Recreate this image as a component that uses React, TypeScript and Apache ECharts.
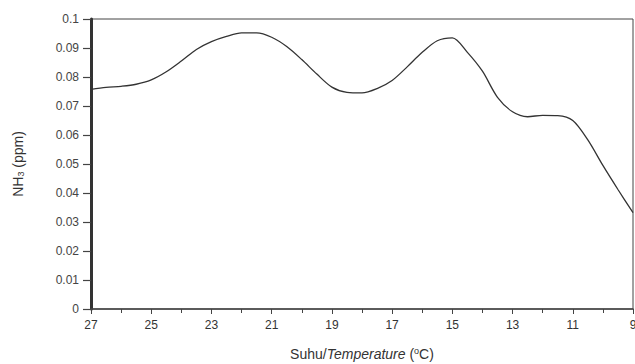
import React, { useEffect, useRef } from "react";
import * as echarts from "echarts";

const temperatures = [27, 26.5, 26, 25.5, 25, 24.5, 24, 23.5, 23, 22.5, 22, 21.5, 21, 20.5, 20, 19.5, 19, 18.5, 18, 17.5, 17, 16.5, 16, 15.5, 15, 14.5, 14, 13.5, 13, 12.5, 12, 11.5, 11, 10.5, 10, 9.5, 9];
const nh3Values = [0.0757, 0.0764, 0.0768, 0.0775, 0.079, 0.0818, 0.0855, 0.0895, 0.0922, 0.094, 0.0952, 0.0952, 0.0937, 0.0905, 0.086, 0.081, 0.0765, 0.0747, 0.0745, 0.076, 0.0788, 0.0835, 0.0885, 0.0925, 0.0935, 0.0885, 0.082, 0.073, 0.068, 0.0663, 0.0668, 0.0667, 0.065, 0.0583, 0.0495, 0.0412, 0.0332];
const yTicks = ["0", "0.01", "0.02", "0.03", "0.04", "0.05", "0.06", "0.07", "0.08", "0.09", "0.1"];

export default function App() {
  const ref = useRef<HTMLDivElement>(null);
  useEffect(() => {
    if (!ref.current) return;
    const chart = echarts.init(ref.current, null, { renderer: "svg" });
    const font = "Liberation Sans, Arial, sans-serif";
    chart.setOption({
      animation: false,
      backgroundColor: "#fff",
      grid: {
        left: 91,
        right: 2,
        top: 19,
        bottom: 55,
        outerBoundsMode: "none",
        containLabel: false,
        show: true,
        borderColor: "#444",
        borderWidth: 1,
        backgroundColor: "transparent",
      },
      xAxis: {
        type: "value",
        min: 9,
        max: 27,
        interval: 2,
        inverse: true,
        name: "Suhu/{i|Temperature} ({s|o}C)",
        nameLocation: "middle",
        nameGap: 37,
        nameTextStyle: {
          fontFamily: font,
          fontSize: 14,
          color: "#333",
          rich: {
            i: { fontStyle: "italic", fontFamily: font, fontSize: 14, color: "#333" },
            s: { fontFamily: font, fontSize: 9, color: "#333", verticalAlign: "top", padding: [0, 0, 6, 0] },
          },
        },
        axisLine: { show: true, lineStyle: { color: "#444", width: 1.5 } },
        axisTick: { show: true, length: 5, lineStyle: { color: "#444" } },
        minorTick: { show: true, splitNumber: 2, length: 4, lineStyle: { color: "#444" } },
        splitLine: { show: false },
        axisLabel: { fontFamily: font, fontSize: 12, color: "#333", margin: 10 },
      },
      yAxis: {
        type: "value",
        min: 0,
        max: 0.1,
        interval: 0.01,
        name: "NH{b|3} (ppm)",
        nameLocation: "middle",
        nameGap: 66,
        nameRotate: 90,
        nameTextStyle: {
          fontFamily: font,
          fontSize: 14,
          color: "#333",
          rich: {
            b: { fontFamily: font, fontSize: 9, color: "#333", verticalAlign: "bottom", padding: [6, 0, 0, 0] },
          },
        },
        axisLine: { show: true, lineStyle: { color: "#333", width: 3 } },
        axisTick: { show: true, length: 8, lineStyle: { color: "#444", width: 1.2 } },
        splitLine: { show: false },
        axisLabel: {
          fontFamily: font,
          fontSize: 12,
          color: "#444",
          margin: 12,
          formatter: (v: number) => yTicks[Math.round(v * 100)] ?? "",
        },
      },
      series: [
        {
          type: "line",
          data: temperatures.map((t, i) => [t, nh3Values[i]]),
          smooth: 0.3,
          symbol: "none",
          lineStyle: { color: "#333", width: 1.3 },
        },
      ],
    });
    return () => chart.dispose();
  }, []);
  return <div ref={ref} style={{ width: 635, height: 364, position: "absolute", left: 0, top: 0 }} />;
}
